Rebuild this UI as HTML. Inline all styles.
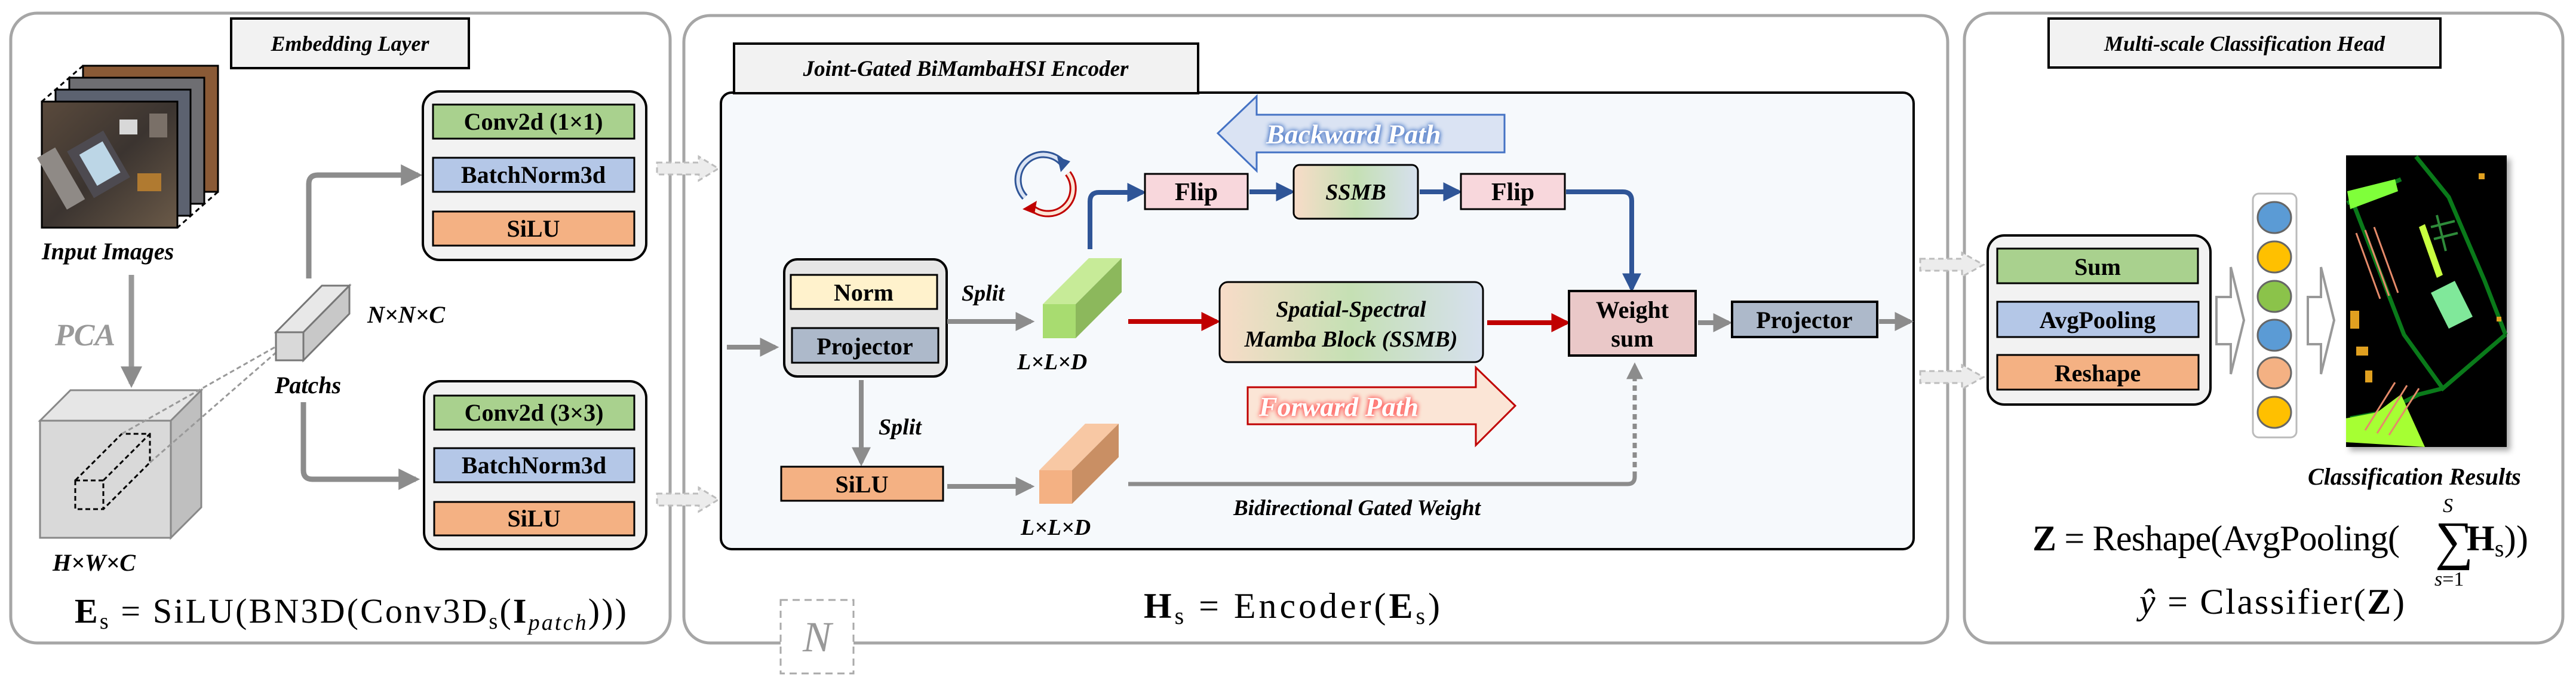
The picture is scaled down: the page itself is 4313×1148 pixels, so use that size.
<!DOCTYPE html>
<html><head><meta charset="utf-8"><style>
html,body{margin:0;padding:0;background:#fff}
svg{display:block}
.t{font-family:"Liberation Serif",serif;font-weight:bold;font-style:italic}
.b{font-family:"Liberation Serif",serif;font-weight:bold}
.m{font-family:"Liberation Serif",serif}
</style></head><body>
<svg width="4313" height="1148" viewBox="0 0 4313 1148" xmlns="http://www.w3.org/2000/svg">
<defs>
<marker id="ag" viewBox="0 0 10 10" refX="8" refY="5" markerWidth="4" markerHeight="4" orient="auto"><path d="M0,0L10,5L0,10z" fill="#8c8c8c"/></marker>
<marker id="ab" viewBox="0 0 10 10" refX="8" refY="5" markerWidth="4" markerHeight="4" orient="auto"><path d="M0,0L10,5L0,10z" fill="#2f5597"/></marker>
<marker id="ar" viewBox="0 0 10 10" refX="8" refY="5" markerWidth="4" markerHeight="4" orient="auto"><path d="M0,0L10,5L0,10z" fill="#c00000"/></marker>
<linearGradient id="ssmb" x1="0" x2="1" y1="0" y2="0"><stop offset="0" stop-color="#f8dcc8"/><stop offset="0.5" stop-color="#c5e0b4"/><stop offset="1" stop-color="#d6e0ee"/></linearGradient>
<linearGradient id="img" x1="0" x2="1" y1="0" y2="1"><stop offset="0" stop-color="#5a4a3c"/><stop offset="0.5" stop-color="#3b3430"/><stop offset="1" stop-color="#6b5a48"/></linearGradient>
<filter id="gb" x="-20%" y="-50%" width="140%" height="200%"><feGaussianBlur stdDeviation="4" in="SourceAlpha" result="b"/><feFlood flood-color="#4472c4"/><feComposite in2="b" operator="in" result="c"/><feMerge><feMergeNode in="c"/><feMergeNode in="c"/><feMergeNode in="SourceGraphic"/></feMerge></filter>
<filter id="gr" x="-20%" y="-50%" width="140%" height="200%"><feGaussianBlur stdDeviation="4" in="SourceAlpha" result="b"/><feFlood flood-color="#ff5050"/><feComposite in2="b" operator="in" result="c"/><feMerge><feMergeNode in="c"/><feMergeNode in="c"/><feMergeNode in="SourceGraphic"/></feMerge></filter>
<filter id="sh"><feDropShadow dx="6" dy="6" stdDeviation="5" flood-color="#000" flood-opacity="0.35"/></filter>
</defs>

<rect x="18" y="22" width="1104" height="1054" rx="44" fill="#fff" stroke="#a6a6a6" stroke-width="5"/>
<rect x="1145" y="26" width="2116" height="1050" rx="44" fill="#fff" stroke="#a6a6a6" stroke-width="5"/>
<rect x="3289" y="22" width="1002" height="1054" rx="44" fill="#fff" stroke="#a6a6a6" stroke-width="5"/>

<!-- ===== Panel 1 ===== -->
<rect x="387" y="31" width="398" height="83" fill="#f2f2f2" stroke="#000" stroke-width="4"/>
<text x="586" y="85" class="t" font-size="36" text-anchor="middle">Embedding Layer</text>

<g stroke="#000" stroke-width="3">
<rect x="139" y="110" width="226" height="211" fill="#8a5a36"/>
<rect x="116" y="130" width="226" height="211" fill="#6e6e72"/>
<rect x="93" y="150" width="226" height="211" fill="#5c6270"/>
<rect x="70" y="170" width="227" height="211" fill="url(#img)"/>
</g>
<g stroke="none">
<rect x="130" y="230" width="70" height="90" fill="#4d4a50" transform="rotate(-30 165 275)"/>
<rect x="145" y="245" width="45" height="60" fill="#bcd6e6" transform="rotate(-30 165 275)"/>
<rect x="85" y="250" width="35" height="100" fill="#8f8a86" transform="rotate(-30 100 300)"/>
<rect x="200" y="200" width="30" height="25" fill="#d8d8d8"/>
<rect x="230" y="290" width="40" height="30" fill="#b07a30"/>
<rect x="250" y="190" width="30" height="40" fill="#7a7068"/>
</g>
<path d="M365,321 L297,381" stroke="#000" stroke-width="3" stroke-dasharray="8,6"/>
<path d="M139,110 L70,170" stroke="#000" stroke-width="3" stroke-dasharray="8,6"/>
<text x="70" y="434" class="t" font-size="40">Input Images</text>

<line x1="220" y1="460" x2="220" y2="642" stroke="#999" stroke-width="9" marker-end="url(#ag)"/>
<text x="92" y="578" class="t" font-size="52" fill="#999">PCA</text>

<polygon points="67,704 118,653 337,653 286,704" fill="#e6e6e6" stroke="#888" stroke-width="3"/>
<polygon points="286,704 337,653 337,849 286,900" fill="#bfbfbf" stroke="#888" stroke-width="3"/>
<rect x="67" y="704" width="219" height="196" fill="#d9d9d9" stroke="#888" stroke-width="3"/>
<g fill="none" stroke="#000" stroke-width="3" stroke-dasharray="8,5">
<rect x="126" y="804" width="47" height="48"/>
<polyline points="126,804 204,726 251,726 251,774 173,852"/>
<line x1="173" y1="804" x2="251" y2="726"/>
</g>
<g stroke="#999" stroke-width="3" stroke-dasharray="8,5">
<line x1="204" y1="726" x2="462" y2="580"/>
<line x1="251" y1="774" x2="462" y2="590"/>
</g>
<text x="88" y="955" class="t" font-size="40">H×W×C</text>

<polygon points="462,556 539,478 585,478 508,556" fill="#e8e8e8" stroke="#777" stroke-width="3"/>
<polygon points="508,556 585,478 585,525 508,603" fill="#c8c8c8" stroke="#777" stroke-width="3"/>
<rect x="462" y="556" width="46" height="47" fill="#d9d9d9" stroke="#777" stroke-width="3"/>
<text x="460" y="658" class="t" font-size="40">Patchs</text>
<text x="615" y="540" class="t" font-size="40">N×N×C</text>

<path d="M517,466 L517,308 Q517,293 532,293 L700,293" fill="none" stroke="#8c8c8c" stroke-width="9" marker-end="url(#ag)"/>
<path d="M508,673 L508,787 Q508,802 523,802 L696,802" fill="none" stroke="#8c8c8c" stroke-width="9" marker-end="url(#ag)"/>

<rect x="708" y="153" width="374" height="282" rx="28" fill="#f2f2f2" stroke="#000" stroke-width="4"/>
<rect x="725" y="175" width="337" height="57" fill="#a9d18e" stroke="#000" stroke-width="3"/>
<rect x="725" y="264" width="337" height="57" fill="#b4c7e7" stroke="#000" stroke-width="3"/>
<rect x="725" y="354" width="337" height="57" fill="#f4b183" stroke="#000" stroke-width="3"/>
<text x="893" y="217" class="b" font-size="40" text-anchor="middle">Conv2d (1×1)</text>
<text x="893" y="306" class="b" font-size="40" text-anchor="middle">BatchNorm3d</text>
<text x="893" y="396" class="b" font-size="40" text-anchor="middle">SiLU</text>
<rect x="710" y="638" width="372" height="281" rx="28" fill="#f2f2f2" stroke="#000" stroke-width="4"/>
<rect x="727" y="662" width="335" height="57" fill="#a9d18e" stroke="#000" stroke-width="3"/>
<rect x="727" y="750" width="335" height="57" fill="#b4c7e7" stroke="#000" stroke-width="3"/>
<rect x="727" y="840" width="335" height="56" fill="#f4b183" stroke="#000" stroke-width="3"/>
<text x="894" y="704" class="b" font-size="40" text-anchor="middle">Conv2d (3×3)</text>
<text x="894" y="792" class="b" font-size="40" text-anchor="middle">BatchNorm3d</text>
<text x="894" y="881" class="b" font-size="40" text-anchor="middle">SiLU</text>

<text x="125" y="1042" class="m" font-size="58" textLength="924" lengthAdjust="spacing"><tspan font-weight="bold">E</tspan><tspan font-size="38" dy="10">s</tspan><tspan dy="-10"> = SiLU(BN3D(Conv3D</tspan><tspan font-size="38" dy="10">s</tspan><tspan dy="-10">(</tspan><tspan font-weight="bold">I</tspan><tspan font-size="38" font-style="italic" dy="12">patch</tspan><tspan dy="-12">)))</tspan></text>

<g fill="#ececec" stroke="#bdbdbd" stroke-width="3" stroke-dasharray="9,6">
<path d="M1100,272 L1170,272 L1170,262 L1203,282 L1170,302 L1170,292 L1100,292z"/>
<path d="M1100,826 L1170,826 L1170,816 L1203,836 L1170,856 L1170,846 L1100,846z"/>
<path d="M3215,433 L3285,433 L3285,423 L3321,443 L3285,463 L3285,453 L3215,453z"/>
<path d="M3215,621 L3285,621 L3285,611 L3321,631 L3285,651 L3285,641 L3215,641z"/>
</g>

<!-- ===== Panel 2 ===== -->
<rect x="1207" y="155" width="1997" height="764" rx="18" fill="#f6f9fc" stroke="#000" stroke-width="4"/>
<rect x="1229" y="73" width="777" height="83" fill="#f2f2f2" stroke="#000" stroke-width="4"/>
<text x="1617" y="127" class="t" font-size="37" text-anchor="middle">Joint-Gated BiMambaHSI Encoder</text>

<line x1="1217" y1="581" x2="1298" y2="581" stroke="#8c8c8c" stroke-width="8" marker-end="url(#ag)"/>
<rect x="1313" y="434" width="272" height="196" rx="22" fill="#e6e6e6" stroke="#000" stroke-width="4"/>
<rect x="1324" y="460" width="245" height="57" fill="#fff2cc" stroke="#000" stroke-width="3"/>
<rect x="1326" y="549" width="245" height="58" fill="#adb9ca" stroke="#000" stroke-width="3"/>
<text x="1446" y="503" class="b" font-size="40" text-anchor="middle">Norm</text>
<text x="1448" y="593" class="b" font-size="40" text-anchor="middle">Projector</text>

<line x1="1586" y1="538" x2="1726" y2="538" stroke="#8c8c8c" stroke-width="8" marker-end="url(#ag)"/>
<text x="1610" y="503" class="t" font-size="38">Split</text>
<polygon points="1746,509 1823,432 1878,432 1801,509" fill="#c7eb98"/>
<polygon points="1801,509 1878,432 1878,489 1801,566" fill="#8cb85c"/>
<rect x="1746" y="509" width="55" height="57" fill="#a8dc70"/>
<text x="1703" y="618" class="t" font-size="38">L×L×D</text>

<line x1="1442" y1="636" x2="1442" y2="774" stroke="#8c8c8c" stroke-width="8" marker-end="url(#ag)"/>
<text x="1471" y="727" class="t" font-size="38">Split</text>
<rect x="1308" y="781" width="271" height="57" fill="#f4b183" stroke="#000" stroke-width="3"/>
<text x="1443" y="824" class="b" font-size="40" text-anchor="middle">SiLU</text>
<line x1="1586" y1="814" x2="1726" y2="814" stroke="#8c8c8c" stroke-width="8" marker-end="url(#ag)"/>
<polygon points="1740,787 1817,709 1873,709 1795,787" fill="#f8c8a4"/>
<polygon points="1795,787 1873,709 1873,765 1795,843" fill="#c98f64"/>
<rect x="1740" y="787" width="55" height="56" fill="#f4b183"/>
<text x="1709" y="895" class="t" font-size="38">L×L×D</text>

<path d="M1889,810 L2725,810 Q2737,810 2737,798" fill="none" stroke="#8c8c8c" stroke-width="7"/>
<line x1="2737" y1="798" x2="2737" y2="612" stroke="#8c8c8c" stroke-width="7" stroke-dasharray="9,7" marker-end="url(#ag)"/>
<text x="2065" y="862" class="t" font-size="37">Bidirectional Gated Weight</text>

<path d="M1716,330 A42,42 0 0 1 1778,272" fill="none" stroke="#2f5597" stroke-width="12"/>
<path d="M1716,330 A42,42 0 0 1 1778,272" fill="none" stroke="#dae3f3" stroke-width="6"/>
<path d="M1770,262 L1792,270 L1776,288z" fill="#2f5597"/>
<path d="M1788,290 A42,42 0 0 1 1728,348" fill="none" stroke="#c00000" stroke-width="12"/>
<path d="M1788,290 A42,42 0 0 1 1728,348" fill="none" stroke="#fbe5d6" stroke-width="6"/>
<path d="M1736,336 L1712,350 L1732,358z" fill="#c00000"/>

<path d="M2039,223 L2104,161 L2104,192 L2519,192 L2519,255 L2104,255 L2104,286z" fill="#dae3f3" stroke="#4472c4" stroke-width="3"/>
<text x="2120" y="240" class="t" font-size="46" fill="#fff" filter="url(#gb)">Backward Path</text>
<path d="M2089,648 L2471,648 L2471,615 L2537,679 L2471,745 L2471,710 L2089,710z" fill="#fbe5d6" stroke="#c00000" stroke-width="3"/>
<text x="2108" y="696" class="t" font-size="46" fill="#fff" filter="url(#gr)">Forward Path</text>

<path d="M1825,417 L1825,337 Q1825,322 1840,322 L1913,322" fill="none" stroke="#2f5597" stroke-width="8" marker-end="url(#ab)"/>
<rect x="1917" y="291" width="172" height="59" fill="#f8d7dc" stroke="#000" stroke-width="3"/>
<text x="2003" y="335" class="b" font-size="42" text-anchor="middle">Flip</text>
<line x1="2092" y1="321" x2="2162" y2="321" stroke="#2f5597" stroke-width="8" marker-end="url(#ab)"/>
<rect x="2166" y="276" width="208" height="90" rx="10" fill="url(#ssmb)" stroke="#000" stroke-width="3"/>
<text x="2270" y="334" class="t" font-size="38" text-anchor="middle">SSMB</text>
<line x1="2377" y1="321" x2="2442" y2="321" stroke="#2f5597" stroke-width="8" marker-end="url(#ab)"/>
<rect x="2446" y="291" width="174" height="59" fill="#f8d7dc" stroke="#000" stroke-width="3"/>
<text x="2533" y="335" class="b" font-size="42" text-anchor="middle">Flip</text>
<path d="M2622,321 L2717,321 Q2732,321 2732,336 L2732,483" fill="none" stroke="#2f5597" stroke-width="8" marker-end="url(#ab)"/>

<line x1="1889" y1="538" x2="2037" y2="538" stroke="#c00000" stroke-width="8" marker-end="url(#ar)"/>
<rect x="2042" y="472" width="441" height="134" rx="14" fill="url(#ssmb)" stroke="#000" stroke-width="3"/>
<text x="2262" y="530" class="t" font-size="38" text-anchor="middle">Spatial-Spectral</text>
<text x="2262" y="580" class="t" font-size="38" text-anchor="middle">Mamba Block (SSMB)</text>
<line x1="2490" y1="540" x2="2623" y2="540" stroke="#c00000" stroke-width="8" marker-end="url(#ar)"/>
<rect x="2627" y="487" width="212" height="108" fill="#eac8c8" stroke="#000" stroke-width="4"/>
<text x="2733" y="532" class="b" font-size="40" text-anchor="middle">Weight</text>
<text x="2733" y="580" class="b" font-size="40" text-anchor="middle">sum</text>
<line x1="2843" y1="540" x2="2894" y2="540" stroke="#8c8c8c" stroke-width="8" marker-end="url(#ag)"/>
<rect x="2900" y="505" width="243" height="59" fill="#adb9ca" stroke="#000" stroke-width="4"/>
<text x="3021" y="549" class="b" font-size="40" text-anchor="middle">Projector</text>
<line x1="3146" y1="538" x2="3198" y2="538" stroke="#8c8c8c" stroke-width="8" marker-end="url(#ag)"/>

<text x="1915" y="1034" class="m" font-size="60" textLength="496" lengthAdjust="spacing"><tspan font-weight="bold">H</tspan><tspan font-size="40" dy="10">s</tspan><tspan dy="-10"> = Encoder(</tspan><tspan font-weight="bold">E</tspan><tspan font-size="40" dy="10">s</tspan><tspan dy="-10">)</tspan></text>

<rect x="1307" y="1004" width="122" height="123" fill="#fff" stroke="#aaa" stroke-width="3" stroke-dasharray="12,8"/>
<text x="1368" y="1090" class="m" font-style="italic" font-size="72" fill="#999" text-anchor="middle">N</text>

<!-- ===== Panel 3 ===== -->
<rect x="3430" y="31" width="656" height="82" fill="#f2f2f2" stroke="#000" stroke-width="4"/>
<text x="3758" y="85" class="t" font-size="36" text-anchor="middle">Multi-scale Classification Head</text>

<rect x="3328" y="394" width="373" height="283" rx="28" fill="#f2f2f2" stroke="#000" stroke-width="4"/>
<rect x="3344" y="416" width="336" height="58" fill="#a9d18e" stroke="#000" stroke-width="3"/>
<rect x="3344" y="505" width="337" height="59" fill="#b4c7e7" stroke="#000" stroke-width="3"/>
<rect x="3344" y="594" width="337" height="58" fill="#f4b183" stroke="#000" stroke-width="3"/>
<text x="3512" y="460" class="b" font-size="40" text-anchor="middle">Sum</text>
<text x="3512" y="549" class="b" font-size="40" text-anchor="middle">AvgPooling</text>
<text x="3512" y="638" class="b" font-size="40" text-anchor="middle">Reshape</text>

<g fill="#fff" stroke="#999" stroke-width="4">
<path d="M3711,497 L3735,497 L3735,447 L3757,536 L3735,626 L3735,576 L3711,576z"/>
<path d="M3864,497 L3886,497 L3886,447 L3908,536 L3886,626 L3886,576 L3864,576z"/>
</g>
<rect x="3772" y="324" width="73" height="408" rx="10" fill="#fff" stroke="#bbb" stroke-width="3"/>
<g stroke="#666" stroke-width="3">
<ellipse cx="3808" cy="364" rx="28" ry="26" fill="#5b9bd5"/>
<ellipse cx="3808" cy="430" rx="28" ry="26" fill="#ffc000"/>
<ellipse cx="3808" cy="496" rx="28" ry="26" fill="#8bc34a"/>
<ellipse cx="3808" cy="561" rx="28" ry="26" fill="#5b9bd5"/>
<ellipse cx="3808" cy="624" rx="28" ry="26" fill="#f4b183"/>
<ellipse cx="3808" cy="690" rx="28" ry="26" fill="#ffc000"/>
</g>

<g filter="url(#sh)"><rect x="3928" y="260" width="269" height="488" fill="#000"/></g>
<g fill="none" stroke="#0a7a1a" stroke-width="7">
<path d="M4045,262 L4100,330 L4160,470 L4195,560"/>
<path d="M3930,340 L4020,300"/>
<path d="M3940,340 L4025,560 L4090,650 L4195,560"/>
<path d="M3935,700 L3990,690 L4050,660 L4090,650"/>
</g>
<polygon points="3928,740 3928,700 3980,690 4020,660 4060,748" fill="#a6ff33"/>
<polygon points="3930,320 4010,300 4015,320 3935,350" fill="#7fff3a"/>
<polygon points="4050,380 4060,375 4090,460 4080,465" fill="#c8ff40"/>
<polygon points="4070,490 4110,470 4140,530 4100,550" fill="#80e89a"/>
<g stroke="#e58a6a" stroke-width="3">
<line x1="3945" y1="390" x2="3985" y2="500"/><line x1="3960" y1="385" x2="4000" y2="495"/><line x1="3975" y1="380" x2="4015" y2="490"/>
<line x1="3960" y1="720" x2="4010" y2="640"/><line x1="3980" y1="725" x2="4030" y2="645"/><line x1="4000" y1="728" x2="4050" y2="650"/>
</g>
<g fill="#e0a020">
<rect x="3935" y="520" width="15" height="30"/><rect x="3945" y="580" width="20" height="15"/><rect x="4150" y="290" width="10" height="10"/><rect x="4180" y="530" width="8" height="8"/><rect x="3960" y="620" width="12" height="20"/>
</g>
<g stroke="#2e8b3a" stroke-width="4"><line x1="4080" y1="360" x2="4095" y2="420"/><line x1="4070" y1="380" x2="4110" y2="370"/><line x1="4075" y1="400" x2="4115" y2="390"/></g>

<text x="3864" y="811" class="t" font-size="40">Classification Results</text>

<text x="3403" y="921" class="m" font-size="60" textLength="615" lengthAdjust="spacing"><tspan font-weight="bold">Z</tspan> = Reshape(AvgPooling(</text>
<text x="4077" y="935" class="m" font-size="90">∑</text>
<text x="4090" y="857" class="m" font-style="italic" font-size="34">S</text>
<text x="4076" y="980" class="m" font-size="34"><tspan font-style="italic">s</tspan>=1</text>
<text x="4130" y="921" class="m" font-size="60" textLength="103" lengthAdjust="spacing"><tspan font-weight="bold">H</tspan><tspan font-size="40" dy="10">s</tspan><tspan dy="-10">))</tspan></text>
<text x="3582" y="1027" class="m" font-size="60" textLength="444" lengthAdjust="spacing"><tspan font-style="italic">ŷ</tspan> = Classifier(<tspan font-weight="bold">Z</tspan>)</text>
</svg>
</body></html>
